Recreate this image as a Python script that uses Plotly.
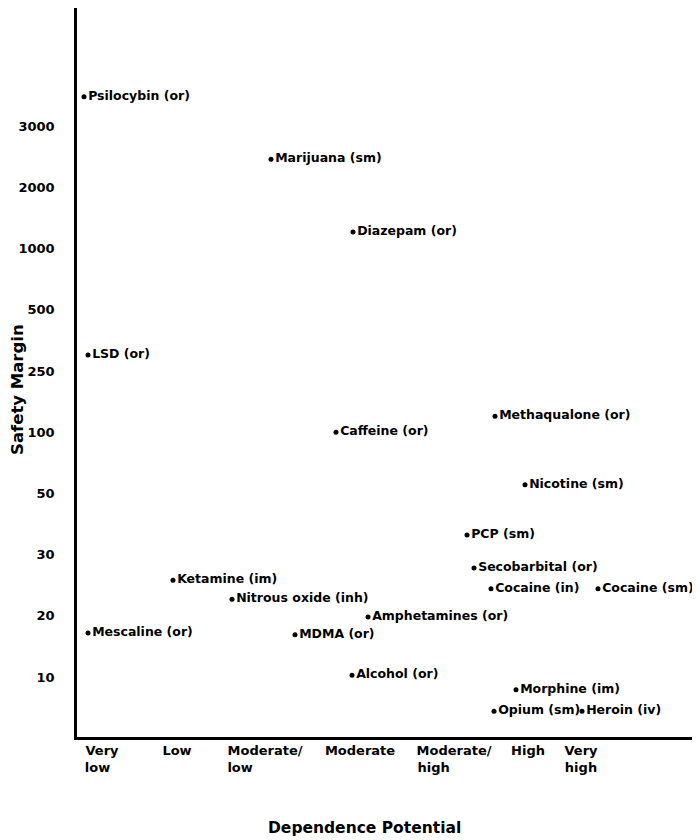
import plotly.graph_objects as go

# ---- data ----
drugs = [
    "Psilocybin (or)", "Marijuana (sm)", "Diazepam (or)", "LSD (or)",
    "Methaqualone (or)", "Caffeine (or)", "Nicotine (sm)", "PCP (sm)",
    "Secobarbital (or)", "Ketamine (im)", "Cocaine (in)", "Cocaine (sm)",
    "Nitrous oxide (inh)", "Amphetamines (or)", "MDMA (or)", "Mescaline (or)",
    "Alcohol (or)", "Morphine (im)", "Opium (sm)", "Heroin (iv)",
]
# dependence potential (position along the category scale)
dependence = [
    0.07, 1.94, 2.76, 0.11,
    4.18, 2.59, 4.48, 3.90,
    3.97, 0.96, 4.14, 5.21,
    1.55, 2.91, 2.18, 0.11,
    2.75, 4.39, 4.17, 5.05,
]
# safety margin (position along the ranked tick ladder 10 ... 3000)
safety_pos = [
    9.48, 8.46, 7.27, 5.26,
    4.26, 4.00, 3.14, 2.32,
    1.78, 1.58, 1.44, 1.44,
    1.27, 0.98, 0.69, 0.72,
    0.03, -0.21, -0.56, -0.56,
]

y_tick_labels = ["10", "20", "30", "50", "100", "250", "500", "1000", "2000", "3000"]
y_tick_pos = list(range(len(y_tick_labels)))

NB = "\u00a0"  # pads short second lines so the two-line labels read left-aligned
x_tick_labels = ["Very<br>low" + NB * 2, "Low", "Moderate/<br>low" + NB * 11, "Moderate",
                 "Moderate/<br>high" + NB * 9, "High", "Very<br>high"]
x_tick_pos = [0.25, 1.00, 1.88, 2.83, 3.77, 4.51, 5.04]

x_title = "Dependence Potential"
y_title = "Safety Margin"

FONT = "DejaVu Sans"

fig = go.Figure()
fig.add_trace(go.Scatter(
    x=dependence,
    y=safety_pos,
    mode="markers+text",
    text=drugs,
    textposition="middle right",
    textfont=dict(family=FONT, size=12.5, color="black", weight="bold"),
    marker=dict(size=5, color="black"),
    cliponaxis=False,
    hoverinfo="text",
    showlegend=False,
))

# axis titles placed as in the reference
fig.add_annotation(
    text=y_title, textangle=-90,
    xref="paper", yref="paper", x=0, y=0.476,
    xanchor="center", yanchor="middle", xshift=-59,
    showarrow=False,
    font=dict(family=FONT, size=16.5, color="black", weight="bold"),
)
fig.add_annotation(
    text=x_title,
    xref="paper", yref="paper", x=0.468, y=0,
    xanchor="center", yanchor="middle", yshift=-91,
    showarrow=False,
    font=dict(family=FONT, size=15.5, color="black", weight="bold"),
)

# page body has an 8px margin, so the figure is sized to fit the 700x840 window
fig.update_layout(
    width=692,
    height=832,
    paper_bgcolor="white",
    plot_bgcolor="white",
    margin=dict(l=69, r=8, t=0, b=103),
    font=dict(family=FONT, size=13, color="black", weight="bold"),
    xaxis=dict(
        range=[0, 6.15],
        showgrid=False,
        zeroline=False,
        showline=True,
        linecolor="black",
        linewidth=2.5,
        ticks="",
        tickvals=x_tick_pos,
        ticktext=x_tick_labels,
        tickfont=dict(family=FONT, size=13, color="black", weight="bold"),
        automargin=False,
    ),
    yaxis=dict(
        range=[-0.98, 10.93],
        showgrid=False,
        zeroline=False,
        showline=True,
        linecolor="black",
        linewidth=2.5,
        ticks="",
        tickvals=y_tick_pos,
        ticktext=y_tick_labels,
        ticklabelstandoff=17,
        tickfont=dict(family=FONT, size=13, color="black", weight="bold"),
        automargin=False,
    ),
)

fig.write_html("out.html")
